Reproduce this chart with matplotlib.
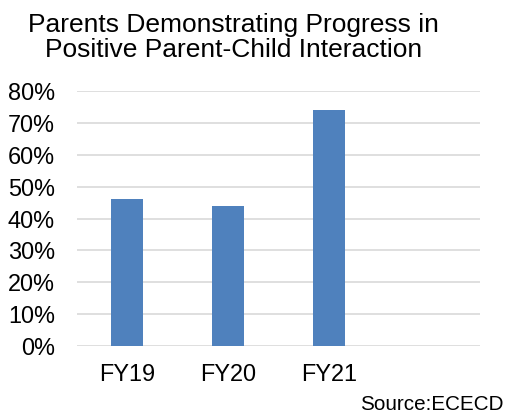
import matplotlib.pyplot as plt
from matplotlib.ticker import PercentFormatter

# data
categories = ["FY19", "FY20", "FY21", ""]
values = [0.46, 0.44, 0.74, None]
title_lines = ["Parents Demonstrating Progress in", "Positive Parent-Child Interaction"]

plt.rcParams['font.family'] = ['Liberation Sans', 'DejaVu Sans']

fig = plt.figure(figsize=(5.08, 4.19), dpi=100)
ax = fig.add_axes([0.1516, 0.1742, 0.7932, 0.6086])

x = list(range(len(categories)))
xs = [i for i, v in zip(x, values) if v is not None]
vs = [v for v in values if v is not None]
ax.bar(xs, vs, width=0.32, color="#4f81bd", zorder=3)

ax.set_xlim(-0.5, len(categories) - 0.5)
ax.set_ylim(0, 0.8)
ax.set_yticks([i / 10 for i in range(9)])
ax.yaxis.set_major_formatter(PercentFormatter(1.0, decimals=0))
ax.set_xticks(x)
ax.set_xticklabels(categories)
ax.tick_params(axis='both', length=0, labelsize=16.9, colors="#000000")
ax.tick_params(axis='x', pad=12)
ax.tick_params(axis='y', pad=16)
ax.grid(axis='y', color="#d9d9d9", linewidth=1.2, zorder=0)
for s in ax.spines.values():
    s.set_visible(False)

fig.text(0.459, 1 - 32 / 419, title_lines[0], ha='center', va='baseline', fontsize=19)
fig.text(0.459, 1 - 57 / 419, title_lines[1], ha='center', va='baseline', fontsize=19)
fig.text(0.992, 9 / 419, "Source:ECECD", ha='right', va='baseline', fontsize=14.9)

fig.savefig("out.png", dpi=100)
